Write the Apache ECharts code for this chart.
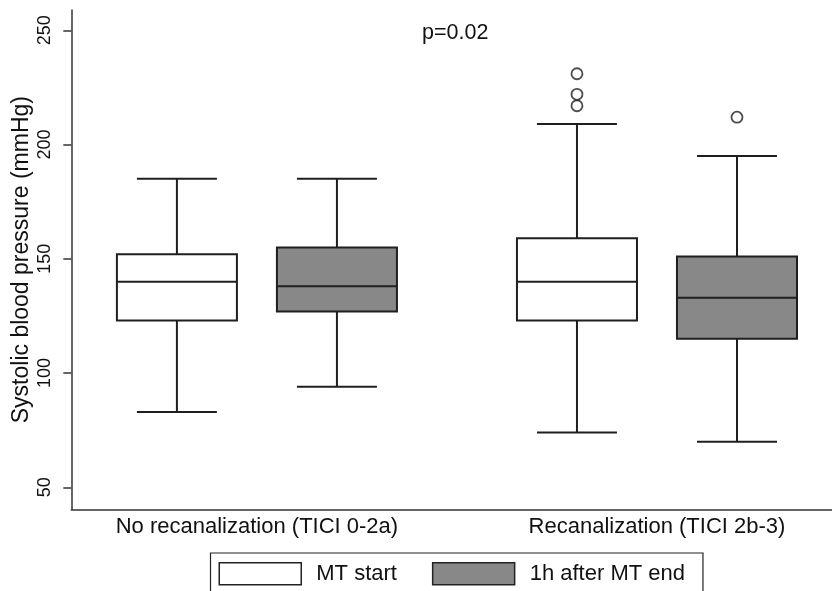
<!DOCTYPE html>
<html>
<head>
<meta charset="utf-8">
<script src="https://cdn.jsdelivr.net/npm/echarts@6/dist/echarts.min.js"></script>
<style>html,body{margin:0;padding:0;background:#fff;}#chart{width:832px;height:591px;}</style>
</head>
<body>
<div id="chart"></div>
<script>
// ---- data ----
const categories = ['No recanalization (TICI 0-2a)', 'Recanalization (TICI 2b-3)'];
const seriesNames = ['MT start', '1h after MT end'];
// [min, Q1, median, Q3, max] per category
const mtStartStats = [[83, 123, 140, 152, 185], [74, 123, 140, 159, 209]];
const after1hStats = [[94, 127, 138, 155, 185], [70, 115, 133, 151, 195]];
// outliers per category
const mtStartOutliers = [[], [217, 222, 231]];
const after1hOutliers = [[], [212]];
const yTicks = [50, 100, 150, 200, 250];
const pText = 'p=0.02';

// ---- layout / style ----
const FONT = 'Liberation Sans, Arial, Helvetica, sans-serif';
const LINE = '#1f1f1f';
const GRAY = '#888888';
const OFFSET = 0.2;      // box offset from group centre (axis units)
const BOXW = 0.3;        // box width (axis units)
const CAPW = 0.2;        // whisker cap width (axis units)

function boxData(stats, off) {
  return stats.map((s, i) => [i + off].concat(s));
}
function outlierData(outs, off) {
  const res = [];
  outs.forEach((arr, i) => arr.forEach(v => res.push([i + off, v])));
  return res;
}
function makeRender(fill) {
  return function (params, api) {
    const x = api.value(0);
    const lo = api.coord([x, api.value(1)]);
    const q1 = api.coord([x, api.value(2)]);
    const md = api.coord([x, api.value(3)]);
    const q3 = api.coord([x, api.value(4)]);
    const hi = api.coord([x, api.value(5)]);
    const bw = api.size([BOXW, 0])[0];
    const cw = api.size([CAPW, 0])[0];
    const cx = md[0];
    const st = { stroke: LINE, lineWidth: 2 };
    return {
      type: 'group',
      children: [
        { type: 'line', shape: { x1: cx, y1: hi[1], x2: cx, y2: q3[1] }, style: st },
        { type: 'line', shape: { x1: cx, y1: q1[1], x2: cx, y2: lo[1] }, style: st },
        { type: 'line', shape: { x1: cx - cw / 2, y1: hi[1], x2: cx + cw / 2, y2: hi[1] }, style: st },
        { type: 'line', shape: { x1: cx - cw / 2, y1: lo[1], x2: cx + cw / 2, y2: lo[1] }, style: st },
        { type: 'rect', shape: { x: cx - bw / 2, y: q3[1], width: bw, height: q1[1] - q3[1] },
          style: { fill: fill, stroke: LINE, lineWidth: 2 } },
        { type: 'line', shape: { x1: cx - bw / 2, y1: md[1], x2: cx + bw / 2, y2: md[1] }, style: st }
      ]
    };
  };
}

const chart = echarts.init(document.getElementById('chart'), null, { renderer: 'canvas' });
chart.setOption({
  animation: false,
  backgroundColor: '#fff',
  textStyle: { fontFamily: FONT, color: '#111' },
  graphic: [{
    type: 'text', left: 422, top: 22,
    style: { text: pText, font: '21.5px ' + FONT, fill: '#111' }
  }],
  legend: {
    left: 210.5, top: 553,
    orient: 'horizontal',
    padding: [9, 18, 9, 8],
    borderColor: '#222', borderWidth: 1.2,
    itemWidth: 82, itemHeight: 22, itemGap: 35,
    icon: 'rect',
    textStyle: { fontSize: 22, fontFamily: FONT, color: '#111', padding: [0, 0, 0, 10] },
    data: [
      { name: seriesNames[0], itemStyle: { color: '#fff', borderColor: '#222', borderWidth: 1.5 } },
      { name: seriesNames[1], itemStyle: { color: GRAY, borderColor: '#222', borderWidth: 1.5 } }
    ],
    selectedMode: false
  },
  grid: { left: 71.3, right: 0, top: 10, bottom: 81.7, containLabel: false, outerBoundsMode: 'none' },
  xAxis: {
    type: 'value',
    min: -0.464, max: 1.4375,
    axisLine: { show: true, onZero: false, lineStyle: { color: '#333', width: 1.5 } },
    axisTick: { show: false },
    splitLine: { show: false },
    axisLabel: {
      customValues: [0, 1],
      formatter: v => categories[Math.round(v)],
      fontSize: 22, color: '#111', fontFamily: FONT, margin: 7
    }
  },
  yAxis: {
    type: 'value',
    min: 40.4, max: 258.9,
    name: 'Systolic blood pressure (mmHg)',
    nameLocation: 'middle',
    nameRotate: 90,
    nameGap: 38,
    nameMoveOverlap: false,
    nameTextStyle: { fontSize: 23, color: '#111', fontFamily: FONT },
    axisLine: { show: true, onZero: false, lineStyle: { color: '#333', width: 1.5 } },
    axisTick: { show: true, length: 8, customValues: yTicks, lineStyle: { color: '#333', width: 1.5 } },
    splitLine: { show: false },
    axisLabel: { customValues: yTicks, rotate: 90, fontSize: 18, color: '#111', fontFamily: FONT, margin: 17 }
  },
  series: [
    {
      name: seriesNames[0], type: 'custom',
      renderItem: makeRender('#ffffff'),
      encode: { x: 0, y: [1, 2, 3, 4, 5] },
      itemStyle: { color: '#fff', borderColor: '#222' },
      data: boxData(mtStartStats, -OFFSET), z: 2
    },
    {
      name: seriesNames[1], type: 'custom',
      renderItem: makeRender(GRAY),
      encode: { x: 0, y: [1, 2, 3, 4, 5] },
      itemStyle: { color: GRAY, borderColor: '#222' },
      data: boxData(after1hStats, OFFSET), z: 2
    },
    {
      name: seriesNames[0] + ' outliers', type: 'scatter',
      symbol: 'circle', symbolSize: 11,
      itemStyle: { color: '#fff', borderColor: LINE, borderWidth: 1.8 },
      data: outlierData(mtStartOutliers, -OFFSET), z: 3
    },
    {
      name: seriesNames[1] + ' outliers', type: 'scatter',
      symbol: 'circle', symbolSize: 11,
      itemStyle: { color: '#fff', borderColor: LINE, borderWidth: 1.8 },
      data: outlierData(after1hOutliers, OFFSET), z: 3
    }
  ]
});
</script>
</body>
</html>
